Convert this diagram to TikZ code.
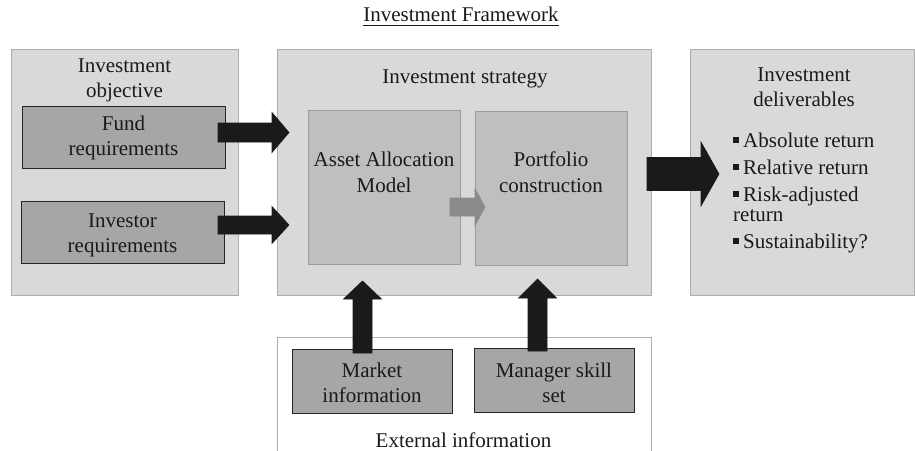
\documentclass[tikz,border=0pt]{standalone}
\usepackage{fontspec}
\setmainfont{Liberation Serif}
\definecolor{panel}{HTML}{D9D9D9}
\definecolor{panelline}{HTML}{ADADAD}
\definecolor{inbox}{HTML}{A6A6A6}
\definecolor{inboxline}{HTML}{262626}
\definecolor{stepfill}{HTML}{BFBFBF}
\definecolor{stepline}{HTML}{9C9C9C}
\definecolor{ink}{HTML}{1A1A1A}
\definecolor{softarrow}{HTML}{8A8A8A}
% right-pointing block arrow: x start, x tip, y centre, shaft half-height, head half-height, head length, colour
\newcommand{\rblock}[7]{%
  \filldraw[#7, line width=0.6pt, line join=miter]
    (#1,{#3-#4}) -- ({#2-#6},{#3-#4}) -- ({#2-#6},{#3-#5}) -- (#2,#3)
    -- ({#2-#6},{#3+#5}) -- ({#2-#6},{#3+#4}) -- (#1,{#3+#4}) -- cycle;}
% upward block arrow: x centre, y bottom, y tip, shaft half-width, head half-width, head length, colour
\newcommand{\ublock}[7]{%
  \filldraw[#7, line width=0.6pt, line join=miter]
    ({#1-#4},#2) -- ({#1-#4},{#3+#6}) -- ({#1-#5},{#3+#6}) -- (#1,#3)
    -- ({#1+#5},{#3+#6}) -- ({#1+#4},{#3+#6}) -- ({#1+#4},#2) -- cycle;}
\begin{document}
\begin{tikzpicture}[x=1pt,y=-1pt,
  every node/.style={font=\fontsize{21}{24.5}\selectfont, text=ink, inner sep=0pt},
  panelbox/.style={draw=panelline, fill=panel, line width=1pt, anchor=north west},
  reqbox/.style={draw=inboxline, fill=inbox, line width=1pt, anchor=north west},
  stagebox/.style={draw=stepline, fill=stepfill, line width=1pt, anchor=north west},
  lbl/.style={align=center, anchor=base},
  item/.style={align=left, anchor=base west},
  dark/.style={fill=ink, draw=ink},
  soft/.style={fill=softarrow, draw=softarrow}]
\useasboundingbox (0,0) rectangle (915,450);

% heading (labels below are placed by the baseline of their last line)
\node[anchor=base] (head) at (461,21) {Investment Framework};
\draw[ink, line width=0.9pt] ([yshift=-4pt]head.base west) -- ([yshift=-4pt]head.base east);

% three panels
\node[panelbox, minimum width=227pt, minimum height=246pt] (obj) at (11,49) {};
\node[panelbox, minimum width=374pt, minimum height=246pt] (strat) at (277,49) {};
\node[panelbox, minimum width=224pt, minimum height=246pt] (deliv) at (690,49) {};

% external information panel, open at the bottom
\coordinate (extbl) at (277,451);
\coordinate (exttl) at (277,337);
\coordinate (exttr) at (651,337);
\coordinate (extbr) at (651,451);
\draw[panelline, line width=1pt] (extbl) -- (exttl) -- (exttr) -- (extbr);

% inner boxes
\node[reqbox, minimum width=203pt, minimum height=62pt] (fund) at (22,106) {};
\node[reqbox, minimum width=203pt, minimum height=62pt] (inv) at (21,201) {};
\node[stagebox, minimum width=152pt, minimum height=154pt] (aam) at (308,110) {};
\node[stagebox, minimum width=152pt, minimum height=154pt] (pc) at (475,111) {};
\node[reqbox, minimum width=160pt, minimum height=64pt] (mkt) at (292,349) {};
\node[reqbox, minimum width=160pt, minimum height=64pt] (mgr) at (474,348) {};

% labels
\node[lbl] (objT) at (124.5,97) {Investment\\objective};
\node[lbl] (stratT) at (465,83) {Investment strategy};
\node[lbl] (delivT) at (804,106) {Investment\\deliverables};
\node[lbl] (fundT) at (123.5,155) {Fund\\requirements};
\node[lbl] (invT) at (122.5,252) {Investor\\requirements};
\node[lbl, font=\fontsize{21}{26}\selectfont] (aamT) at (384,192) {Asset Allocation\\Model};
\node[lbl, font=\fontsize{21}{26}\selectfont] (pcT) at (551,192) {Portfolio\\construction};
\node[lbl] (mktT) at (372,402) {Market\\information};
\node[lbl] (mgrT) at (554,402) {Manager skill\\set};
\node[lbl] (extT) at (463.5,447) {External information};

% deliverables list
\newcommand{\sqbullet}{\raisebox{4pt}{\rule{6pt}{6pt}}\hspace{4pt}}
\node[item] (d1) at (733,147) {\sqbullet Absolute return};
\node[item] (d2) at (733,174) {\sqbullet Relative return};
\node[item, font=\fontsize{21}{20}\selectfont] (d3) at (733,221) {\sqbullet Risk-adjusted\\return};
\node[item] (d4) at (733,248) {\sqbullet Sustainability?};

% block arrows
\rblock{218}{289}{132.5}{9.5}{20}{17}{dark}
\rblock{218}{289}{225}{9}{18.5}{17}{dark}
\rblock{450}{485}{207}{9}{18.5}{10}{soft}
\rblock{647}{719}{174}{16.5}{32}{18}{dark}
\ublock{362.5}{353}{281}{9.5}{19}{18}{dark}
\ublock{537.5}{351}{279}{9.5}{19}{19}{dark}
\end{tikzpicture}
\end{document}
